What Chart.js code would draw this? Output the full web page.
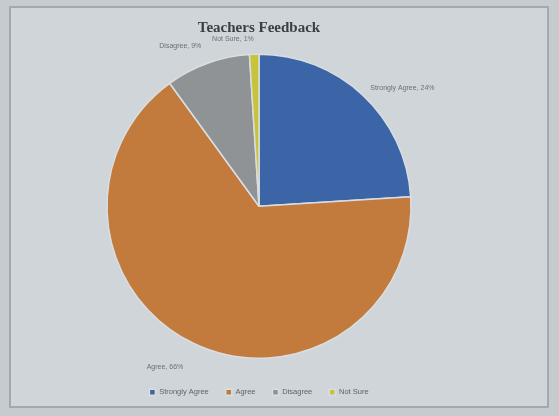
<!DOCTYPE html>
<html>
<head>
<meta charset="utf-8">
<script src="https://cdn.jsdelivr.net/npm/chart.js@4.4.1/dist/chart.umd.min.js"></script>
<style>
  html, body { margin: 0; padding: 0; background: #c5cbcf; width: 559px; height: 416px; overflow: hidden; }
  #frame { position: absolute; left: 9px; top: 6px; width: 536px; height: 398px; border: 2px solid #a4a9ad; background: #cfd5d9; }
  #c { display: block; }
</style>
</head>
<body>
<div id="frame"><canvas id="c" width="536" height="398"></canvas></div>
<script>
const titleText = "Teachers Feedback";
const categories = ["Strongly Agree", "Agree", "Disagree", "Not Sure"];
const values = [24, 66, 9, 1];
const colors = ["#3c65a7", "#c27b3d", "#8f9396", "#c8c23c"];

const labelPlugin = {
  id: 'sliceLabels',
  afterDatasetsDraw(chart) {
    const ctx = chart.ctx;
    const meta = chart.getDatasetMeta(0);
    const factors = [1.07, 1.17, 1.12, 1.1];
    ctx.save();
    ctx.font = '7px "Liberation Sans", Arial, sans-serif';
    ctx.fillStyle = '#6b7074';
    ctx.textBaseline = 'middle';
    meta.data.forEach((arc, i) => {
      const mid = (arc.startAngle + arc.endAngle) / 2;
      const r = arc.outerRadius * factors[i];
      const x = arc.x + Math.cos(mid) * r;
      const y = arc.y + Math.sin(mid) * r;
      ctx.textAlign = Math.cos(mid) >= 0 ? 'left' : 'right';
      ctx.fillText(categories[i] + ', ' + values[i] + '%', x, y);
    });
    ctx.restore();
  }
};

new Chart(document.getElementById('c'), {
  type: 'pie',
  data: {
    labels: categories,
    datasets: [{
      data: values,
      backgroundColor: colors,
      borderColor: '#d9dee1',
      borderWidth: 1.5,
      radius: 152
    }]
  },
  options: {
    responsive: false,
    animation: false,
    layout: { padding: { left: 0, right: 40, top: 0, bottom: 0 } },
    plugins: {
      title: {
        display: true,
        text: titleText,
        color: '#3b3f43',
        font: { family: '"Liberation Serif", "DejaVu Serif", serif', size: 15, weight: 'bold' },
        padding: { top: 11, bottom: 4 }
      },
      legend: {
        position: 'bottom',
        labels: {
          boxWidth: 6, boxHeight: 6,
          color: '#5e6367',
          font: { family: '"Liberation Sans", Arial, sans-serif', size: 7.5 },
          padding: 17
        }
      },
      tooltip: { enabled: false }
    }
  },
  plugins: [labelPlugin]
});
</script>
</body>
</html>
